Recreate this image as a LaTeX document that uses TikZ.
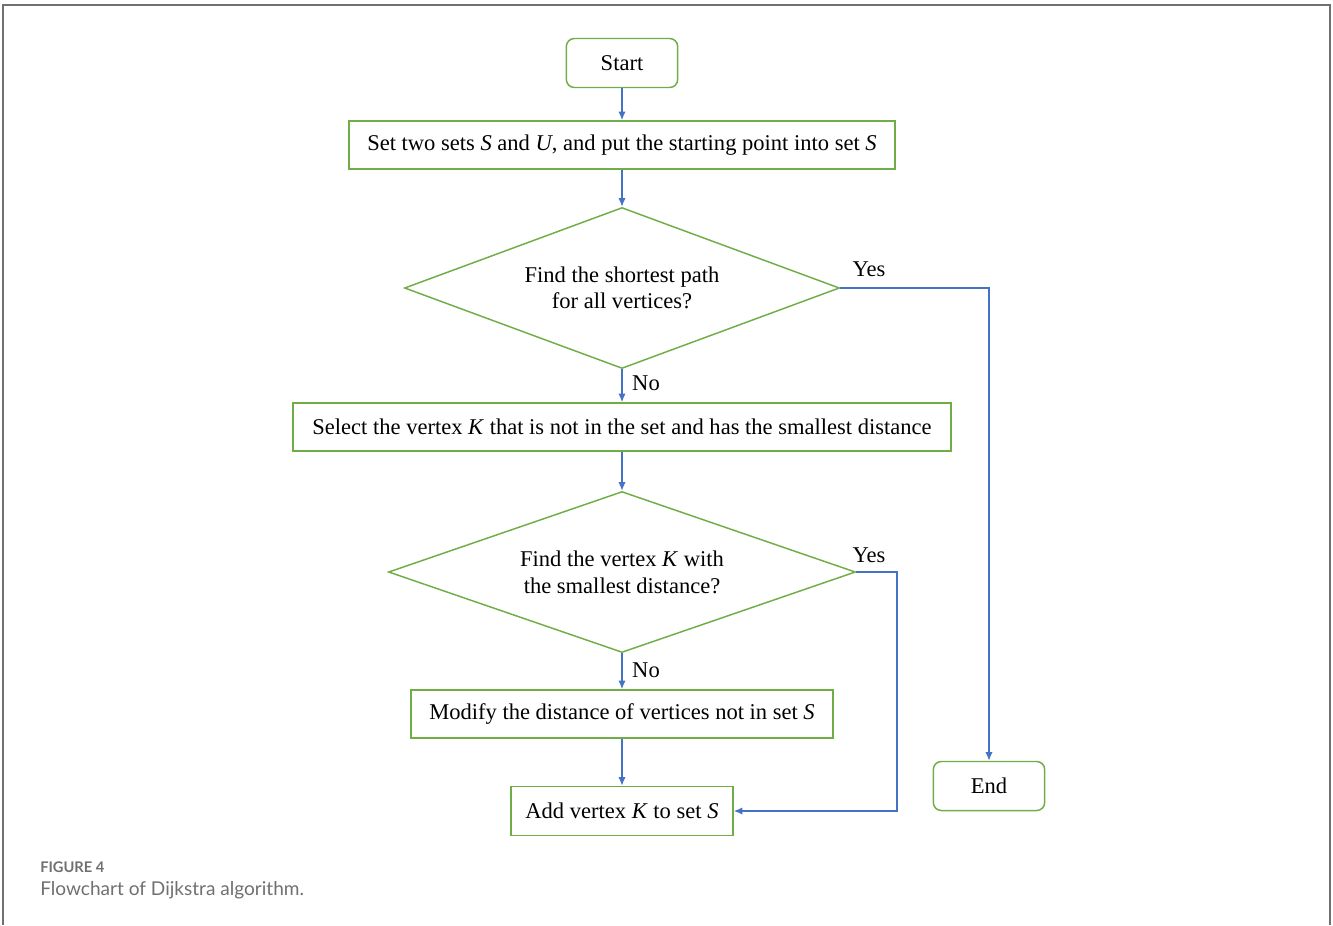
\documentclass[tikz,border=0pt]{standalone}
\usepackage{fontspec}
\setmainfont{Liberation Serif}
\newfontfamily\capfont{Lato}
\usetikzlibrary{arrows.meta,shapes.geometric}
\definecolor{fGreen}{RGB}{112,173,71}
\definecolor{fBlue}{RGB}{68,114,196}
\definecolor{fGray}{RGB}{112,112,112}
\tikzset{
    proc/.style={rectangle, draw=fGreen, line width=1.1pt, minimum height=36pt, inner sep=2pt,
                 font=\fontsize{16.9}{20}\selectfont},
    term/.style={proc, rounded corners=6pt, minimum width=83.5pt, minimum height=36.75pt},
    cond/.style={diamond, draw=fGreen, line width=1.1pt, minimum height=120.75pt, inner sep=0pt,
                 shape aspect=2.7, align=center, font=\fontsize{16.9}{20}\selectfont},
    flow/.style={draw=fBlue, line width=1.1pt, -{Latex[length=6.5pt,width=5.5pt]}},
    lab/.style={font=\fontsize{16.9}{20}\selectfont},
    frame line/.style={line width=1.6pt, fGray}
}
\begin{document}
\begin{tikzpicture}[x=0.75pt,y=-0.75pt]
\useasboundingbox (0,0) rectangle (1333,925);
% frame
\draw[frame line] (3,925)--(3,5)--(1330,5)--(1330,925);
% boxes
\node[term] (start) at (622, 63) {Start};
\node[proc, minimum width=409.5pt] (init) at (622,145) {Set two sets \textit{S} and \textit{U}, and put the starting point into set \textit{S}};
\node[cond, minimum width=326.25pt] (all) at (622,288) {Find the shortest path\\for all vertices?};
\node[proc, minimum width=493.5pt] (sel) at (622,427) {Select the vertex \textit{K} that is not in the set and has the smallest distance};
\node[cond, minimum width=350.25pt] (found) at (622,572) {Find the vertex \textit{K} with\\the smallest distance?};
\node[proc, minimum width=316.5pt] (mod) at (622,714) {Modify the distance of vertices not in set \textit{S}};
\node[proc, minimum width=166.5pt, minimum height=36.75pt] (add) at (622,811) {Add vertex \textit{K} to set \textit{S}};
\node[term] (end) at (989,786) {End};
\coordinate (bend) at (897,572);
% arrows
\draw[flow] (start) -- (init);
\draw[flow] (init) -- (all);
\draw[flow] (all) -- (sel);
\draw[flow] (sel) -- (found);
\draw[flow] (found) -- (mod);
\draw[flow] (mod) -- (add);
\draw[flow] (all.east) -| (end.north);
\draw[flow] (found.east) -- (bend) |- (add.east);
% labels
\node[lab] (yes1) at (869,269) {Yes};
\node[lab] (no1) at (646,383) {No};
\node[lab] (yes2) at (869,555) {Yes};
\node[lab] (no2) at (646,670) {No};
% caption
\node[anchor=west, inner sep=0pt, text=fGray, font=\capfont\bfseries\fontsize{11}{13}\selectfont] (fig) at (40,867) {FIGURE 4};
\node[anchor=west, inner sep=0pt, text=fGray, font=\capfont\fontsize{14.3}{17}\selectfont] (cap) at (40,890) {Flowchart of Dijkstra algorithm.};
\end{tikzpicture}
\end{document}
